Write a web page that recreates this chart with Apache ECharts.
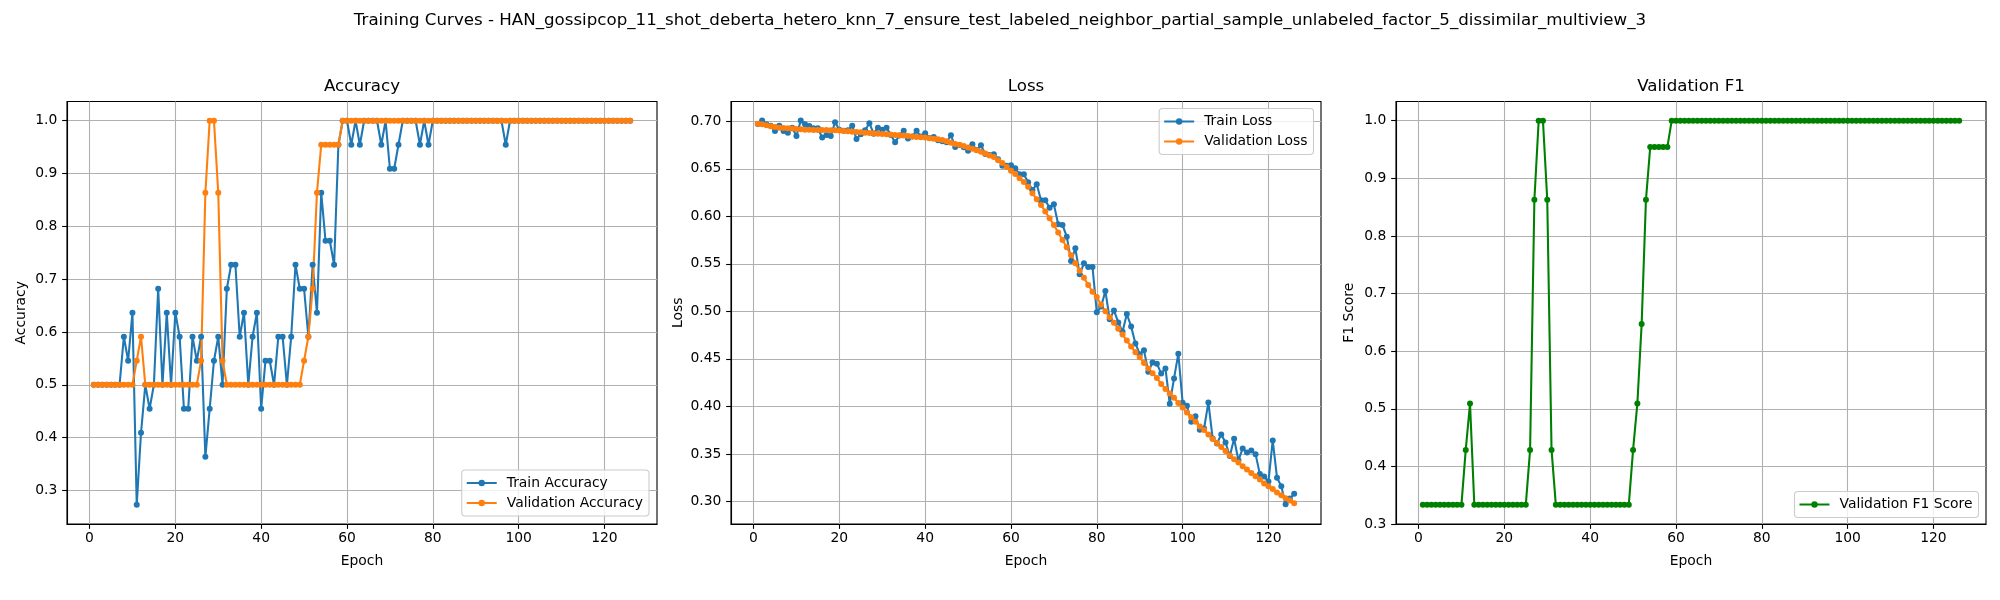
<!DOCTYPE html>
<html><head><meta charset="utf-8">
<script src="https://cdn.jsdelivr.net/npm/echarts@6/dist/echarts.min.js"></script>
<style>html,body{margin:0;padding:0;background:#fff}#c{width:2000px;height:600px}</style>
</head><body><div id="c"></div>
<script>
const trainAcc=[
.5,.5,.5,.5,.5,.5,.5,.5909,.5455,.6364,
.2727,.4091,.5,.4545,.5,.6818,.5,.6364,.5,.6364,
.5909,.4545,.4545,.5909,.5455,.5909,.3636,.4545,.5455,.5909,
.5,.6818,.7273,.7273,.5909,.6364,.5,.5909,.6364,.4545,
.5455,.5455,.5,.5909,.5909,.5,.5909,.7273,.6818,.6818,
.5909,.7273,.6364,.8636,.7727,.7727,.7273,.9545,1,1,
.9545,1,.9545,1,1,1,1,.9545,1,.9091,
.9091,.9545,1,1,1,1,.9545,1,.9545,1,
1,1,1,1,1,1,1,1,1,1,
1,1,1,1,1,1,.9545,1,1,1,
1,1,1,1,1,1,1,1,1,1,
1,1,1,1,1,1,1,1,1,1,
1,1,1,1,1,1];
const valAcc=[
.5,.5,.5,.5,.5,.5,.5,.5,.5,.5,
.5455,.5909,.5,.5,.5,.5,.5,.5,.5,.5,
.5,.5,.5,.5,.5,.5455,.8636,1,1,.8636,
.5455,.5,.5,.5,.5,.5,.5,.5,.5,.5,
.5,.5,.5,.5,.5,.5,.5,.5,.5,.5455,
.5909,.6818,.8636,.9545,.9545,.9545,.9545,.9545,1,1,
1,1,1,1,1,1,1,1,1,1,
1,1,1,1,1,1,1,1,1,1,
1,1,1,1,1,1,1,1,1,1,
1,1,1,1,1,1,1,1,1,1,
1,1,1,1,1,1,1,1,1,1,
1,1,1,1,1,1,1,1,1,1,
1,1,1,1,1,1];
const trainLoss=[
.6972,.7007,.6968,.6954,.6898,.6954,.6898,.688,.6933,.6846,
.7007,.6968,.695,.6926,.6926,.6828,.6856,.6846,.699,.691,
.690,.6905,.6954,.6814,.6863,.6905,.698,.687,.6933,.691,
.6933,.6856,.678,.685,.690,.682,.684,.690,.684,.6875,
.6825,.6835,.680,.679,.678,.6853,.673,.675,.6726,.669,
.6758,.6698,.6747,.6656,.6646,.6653,.660,.6533,.6533,.6537,
.6505,.6442,.6442,.6358,.6277,.6337,.6168,.6168,.6091,.6126,
.5916,.5909,.5786,.553,.5663,.539,.5505,.5467,.5467,.499,
.505,.5215,.4916,.501,.4884,.4786,.4972,.4842,.4663,.455,
.459,.4365,.4463,.445,.4347,.44,.4028,.4295,.4555,.4039,
.4007,.384,.3896,.3754,.3768,.4042,.3663,.361,.3705,.362,
.3478,.366,.3433,.3558,.3516,.3537,.3498,.3288,.3263,.321,
.3642,.325,.316,.297,.303,.308];
const valLoss=[
.6975,.6968,.6958,.6947,.694,.6933,.693,.6926,.6923,.6919,
.6916,.6912,.6912,.6909,.6909,.6909,.6907,.6905,.6905,.6902,
.6898,.6895,.6891,.6888,.6884,.688,.6877,.6874,.687,.6867,
.6863,.686,.6856,.6853,.6849,.6846,.6839,.6835,.6832,.6828,
.6822,.6816,.681,.6802,.679,.6775,.676,.6754,.674,.6723,
.671,.6695,.668,.666,.664,.6625,.659,.656,.652,.648,
.6446,.64,.636,.631,.6242,.618,.612,.605,.598,.591,
.583,.575,.5674,.559,.5505,.5428,.5354,.5277,.5207,.515,
.507,.5,.4939,.488,.4816,.4756,.4693,.463,.457,.4517,
.4458,.44,.435,.43,.4237,.4184,.4135,.409,.4037,.3988,
.3935,.3886,.384,.379,.3753,.3704,.3658,.3616,.3574,.353,
.3483,.3444,.341,.337,.3336,.33,.3265,.323,.319,.316,
.313,.3095,.3065,.3035,.301,.298];
const valF1=[
.3333,.3333,.3333,.3333,.3333,.3333,.3333,.3333,.3333,.3333,
.4286,.5091,.3333,.3333,.3333,.3333,.3333,.3333,.3333,.3333,
.3333,.3333,.3333,.3333,.3333,.4286,.8627,1,1,.8627,
.4286,.3333,.3333,.3333,.3333,.3333,.3333,.3333,.3333,.3333,
.3333,.3333,.3333,.3333,.3333,.3333,.3333,.3333,.3333,.4286,
.5091,.6471,.8627,.9545,.9545,.9545,.9545,.9545,1,1,
1,1,1,1,1,1,1,1,1,1,
1,1,1,1,1,1,1,1,1,1,
1,1,1,1,1,1,1,1,1,1,
1,1,1,1,1,1,1,1,1,1,
1,1,1,1,1,1,1,1,1,1,
1,1,1,1,1,1,1,1,1,1,
1,1,1,1,1,1];
const epochTicks=[0,20,40,60,80,100,120];
const accTicks=[.3,.4,.5,.6,.7,.8,.9,1];
const lossTicks=[.3,.35,.4,.45,.5,.55,.6,.65,.7];
const f1Ticks=[.3,.4,.5,.6,.7,.8,.9,1];
const suptitle='Training Curves - HAN_gossipcop_11_shot_deberta_hetero_knn_7_ensure_test_labeled_neighbor_partial_sample_unlabeled_factor_5_dissimilar_multiview_3';

const FONT='"DejaVu Sans"';
const pts=a=>a.map((v,i)=>[i+1,v]);
const panels=[
 {title:'Accuracy',left:67,right:657,ymin:.2364,ymax:1.0364,yticks:accTicks,dec:1,yname:'Accuracy',nameGap:39},
 {title:'Loss',left:731,right:1321,ymin:.2763,ymax:.7208,yticks:lossTicks,dec:2,yname:'Loss',nameGap:46},
 {title:'Validation F1',left:1396,right:1986,ymin:.3,ymax:1.0333,yticks:f1Ticks,dec:1,yname:'F1 Score',nameGap:39.5}
];
const TOP=101.5,BOTTOM=524;
function line(name,arr,color,gi){return {type:'line',name,data:pts(arr),xAxisIndex:gi,yAxisIndex:gi,
  symbol:'circle',symbolSize:6,showSymbol:true,showAllSymbol:true,
  lineStyle:{color,width:2.08},itemStyle:{color},emphasis:{disabled:true},silent:true,clip:false};}
function legend(names,opt){return Object.assign({data:names,orient:'vertical',itemWidth:30,itemHeight:8,itemGap:6,
  backgroundColor:'rgba(255,255,255,0.8)',borderColor:'#cccccc',borderWidth:1.1,borderRadius:3.5,
  padding:[6,6,6,4],textStyle:{fontFamily:FONT,fontSize:13.89,color:'#000',padding:[0,0,0,5]},
  selectedMode:false,animation:false},opt);}
const chart=echarts.init(document.getElementById('c'),null,{renderer:'canvas',width:2000,height:600});
chart.setOption({
 animation:false,backgroundColor:'#fff',
 title:[
  {text:suptitle,left:1000,top:12.5,padding:0,textAlign:'center',textStyle:{fontFamily:FONT,fontSize:16.67,fontWeight:'normal',color:'#000'}},
  ...panels.map(p=>({text:p.title,left:(p.left+p.right)/2,top:78,padding:0,textAlign:'center',textStyle:{fontFamily:FONT,fontSize:16.67,fontWeight:'normal',color:'#000'}}))
 ],
 legend:[
  legend(['Train Accuracy','Validation Accuracy'],{right:2000-649,bottom:600-516}),
  legend(['Train Loss','Validation Loss'],{right:2000-1313.5,top:108.5}),
  legend(['Validation F1 Score'],{right:2000-1978.5,bottom:600-517.5})
 ],
 grid:panels.map(p=>({left:p.left,width:p.right-p.left,top:TOP,height:BOTTOM-TOP,show:true,borderColor:'#000',borderWidth:1.1,backgroundColor:'#fff',containLabel:false})),
 xAxis:panels.map((p,i)=>({type:'value',gridIndex:i,min:-5.25,max:132.25,name:'Epoch',nameLocation:'middle',nameGap:30,
   nameTextStyle:{fontFamily:FONT,fontSize:13.89,color:'#000'},
   axisLine:{show:true,onZero:false,lineStyle:{color:'#000',width:1.1}},
   axisTick:{show:true,length:4.86,customValues:epochTicks,lineStyle:{color:'#000',width:1.1}},
   axisLabel:{margin:7.5,fontFamily:FONT,fontSize:13.89,color:'#000',customValues:epochTicks,formatter:v=>String(v),showMinLabel:true,showMaxLabel:true,hideOverlap:false},
   splitLine:{show:true,lineStyle:{color:'#b0b0b0',width:1.1}},minorTick:{show:false}})),
 yAxis:panels.map((p,i)=>({type:'value',gridIndex:i,min:p.ymin,max:p.ymax,name:p.yname,nameLocation:'middle',nameGap:p.nameGap,
   nameTextStyle:{fontFamily:FONT,fontSize:13.89,color:'#000'},
   axisLine:{show:true,onZero:false,lineStyle:{color:'#000',width:1.1}},
   axisTick:{show:true,length:4.86,customValues:p.yticks,lineStyle:{color:'#000',width:1.1}},
   axisLabel:{margin:9.7,padding:[2,0,0,0],fontFamily:FONT,fontSize:13.89,color:'#000',customValues:p.yticks,formatter:v=>Number(v).toFixed(p.dec),showMinLabel:true,showMaxLabel:true,hideOverlap:false},
   splitLine:{show:true,lineStyle:{color:'#b0b0b0',width:1.1}}})),
 series:[
  line('Train Accuracy',trainAcc,'#1f77b4',0),
  line('Validation Accuracy',valAcc,'#ff7f0e',0),
  line('Train Loss',trainLoss,'#1f77b4',1),
  line('Validation Loss',valLoss,'#ff7f0e',1),
  line('Validation F1 Score',valF1,'#008000',2)
 ]
});
</script></body></html>
